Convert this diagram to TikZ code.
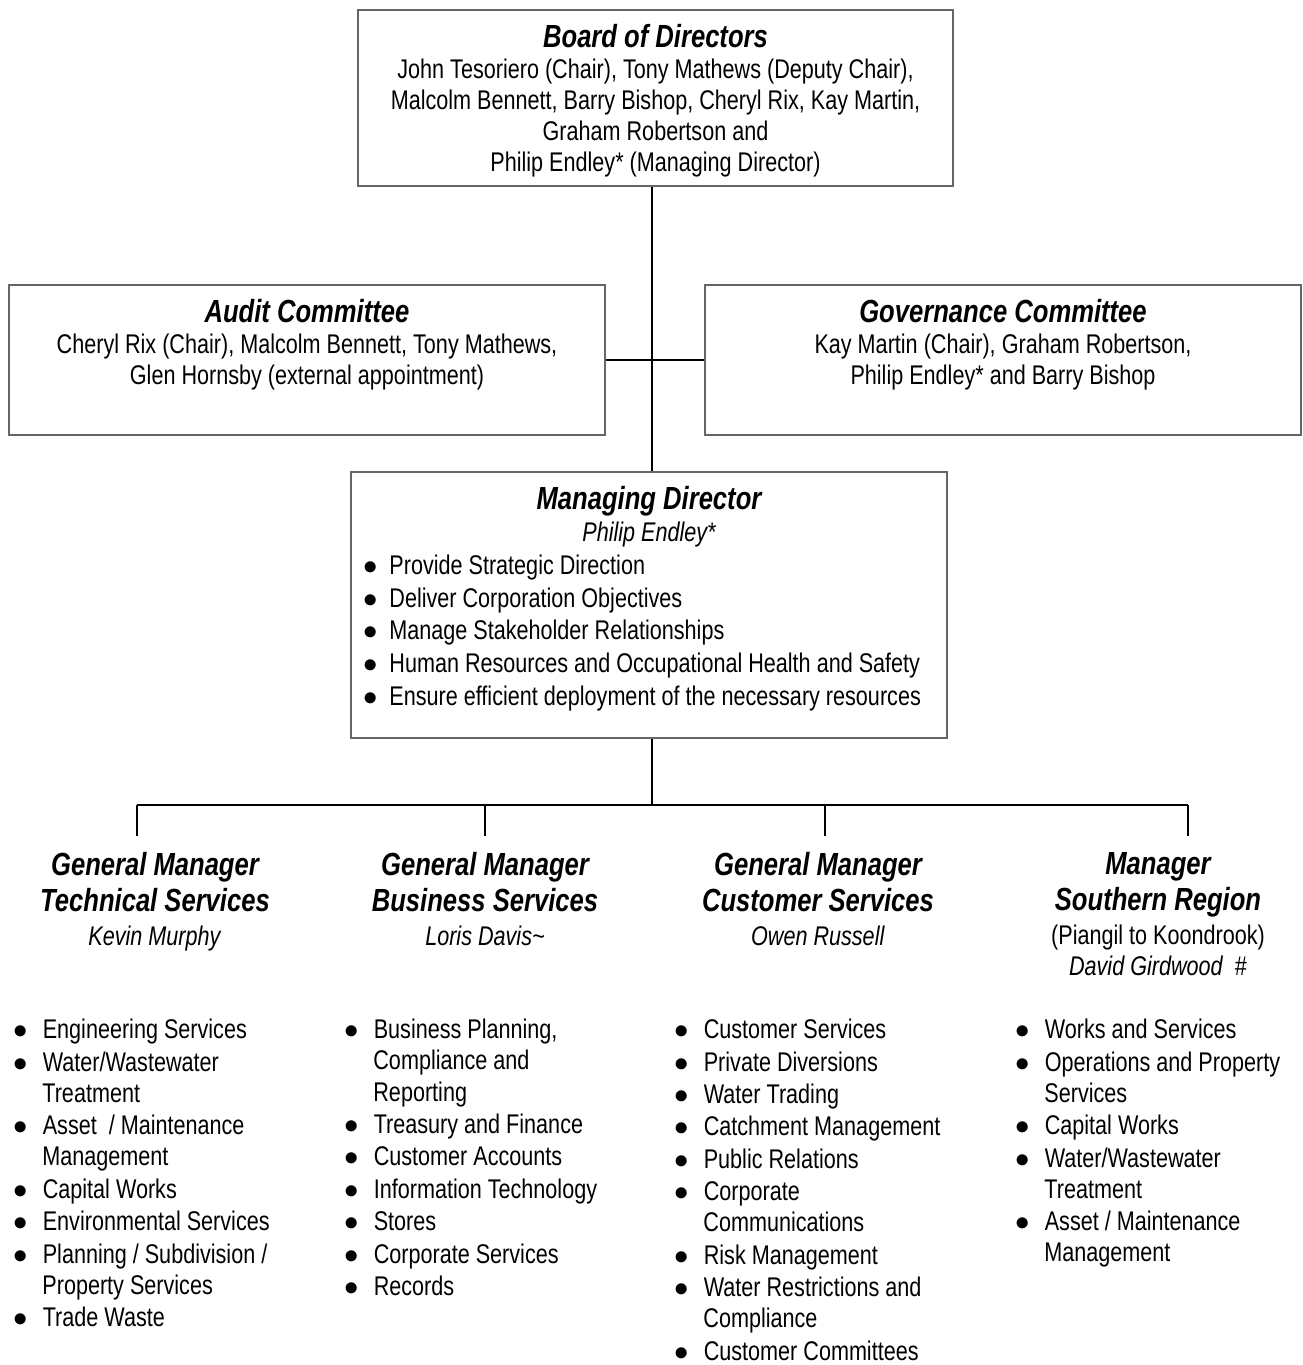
\documentclass[tikz,border=0pt]{standalone}
\usepackage{fontspec}
\setmainfont{Liberation Sans}[FakeStretch=0.8]
\usepackage{enumitem}
\usetikzlibrary{positioning}
\newcommand{\titlefont}{\fontsize{16}{18}\selectfont\bfseries\itshape}
\newcommand{\natspace}{\spaceskip=0pt\xspaceskip=0pt\relax}
\newcommand{\panelbox}[3]{\begin{minipage}[c][#1][t]{#2}\centering\vspace*{7pt}#3\end{minipage}}
\newlist{duties}{itemize}{1}
\setlist[duties]{label=$\bullet$, nosep, itemsep=0.6pt, labelindent=0pt, labelwidth=7pt, labelsep=7.5pt, leftmargin=14.5pt, align=left}

\begin{document}
\begin{tikzpicture}[
    % GLOBAL CFG
    x=0.5pt, y=-0.5pt,
    font=\fontsize{13.5}{15.6}\selectfont,
    % Styles
    panel/.style={% For the framed boxes
        draw=black!60,
        line width=0.6pt,
        inner sep=0pt,
    },
    link/.style={% For the reporting lines
        line width=1pt,
    },
    head/.style={% For the manager headings
        anchor=north,
        inner sep=0pt,
        text width=140pt,
    },
    duty/.style={% For the lists of duties
        anchor=north west,
        inner sep=0pt,
        text width=165pt,
    },
    ]
    \useasboundingbox (0,0) rectangle (1302,1365);

    % Coordinates
    \coordinate (spine) at (652,0);
    \coordinate (bus) at (652,805);
    \coordinate (drop1) at (137,836);
    \coordinate (drop2) at (485,836);
    \coordinate (drop3) at (825,836);
    \coordinate (drop4) at (1188,836);

    % Draw boxes
    \node [panel] (board) at (655.5,98) {\panelbox{88pt}{297.5pt}{%
        {\titlefont Board of Directors\par}
        John Tesoriero (Chair), Tony Mathews (Deputy Chair),\\
        Malcolm Bennett, Barry Bishop, Cheryl Rix, Kay Martin,\\
        Graham Robertson and\\
        Philip Endley* (Managing Director)}};
    \node [panel] (audit) at (307,360) {\panelbox{75pt}{298pt}{%
        {\titlefont Audit Committee\par}
        Cheryl Rix (Chair), Malcolm Bennett, Tony Mathews,\\
        Glen Hornsby (external appointment)}};
    \node [panel] (gov) at (1003,360) {\panelbox{75pt}{298pt}{%
        {\titlefont Governance Committee\par}
        Kay Martin (Chair), Graham Robertson,\\
        Philip Endley* and Barry Bishop}};
    \node [panel] (md) at (649,605) {\panelbox{133pt}{298pt}{%
        {\titlefont Managing Director\par}\vspace{0.6pt}
        {\itshape Philip Endley*\par}\vspace{0.8pt}
        \raggedright
        \begin{duties}[labelindent=6pt, labelsep=6pt, leftmargin=19pt, itemsep=0.8pt]
            \item Provide Strategic Direction
            \item Deliver Corporation Objectives
            \item Manage Stakeholder Relationships
            \item Human Resources and Occupational Health and Safety
            \item Ensure efficient deployment of the necessary resources
        \end{duties}}};

    % Draw manager headings
    \node [head] (tech) at (155,852) {\natspace\centering
        {\titlefont General Manager\\ Technical Services\par}
        \vspace{1.2pt}\textit{Kevin Murphy}\par};
    \node [head] (busi) at (485,852) {\natspace\centering
        {\titlefont General Manager\\ Business Services\par}
        \vspace{1.2pt}\textit{Loris Davis\textasciitilde}\par};
    \node [head] (cust) at (818,852) {\natspace\centering
        {\titlefont General Manager\\ Customer Services\par}
        \vspace{1.2pt}\textit{Owen Russell}\par};
    \node [head] (south) at (1158,852) {\natspace\centering
        {\titlefont Manager\\ Southern Region\par}
        \vspace{1.2pt}(Piangil to Koondrook)\\ \textit{David Girdwood\ \ \#}\par};

    % Draw lists of duties
    \node [duty] (techlist) at (13,1007) {\natspace
        \begin{duties}
            \item Engineering Services
            \item Water/Wastewater\\ Treatment
            \item Asset\ \ / Maintenance\\ Management
            \item Capital Works
            \item Environmental Services
            \item Planning / Subdivision /\\ Property Services
            \item Trade Waste
        \end{duties}};
    \node [duty] (busilist) at (344,1007) {\natspace
        \begin{duties}
            \item Business Planning,\\ Compliance and\\ Reporting
            \item Treasury and Finance
            \item Customer Accounts
            \item Information Technology
            \item Stores
            \item Corporate Services
            \item Records
        \end{duties}};
    \node [duty] (custlist) at (674,1007) {\natspace
        \begin{duties}
            \item Customer Services
            \item Private Diversions
            \item Water Trading
            \item Catchment Management
            \item Public Relations
            \item Corporate\\ Communications
            \item Risk Management
            \item Water Restrictions and\\ Compliance
            \item Customer Committees
        \end{duties}};
    \node [duty] (southlist) at (1015,1007) {\natspace
        \begin{duties}
            \item Works and Services
            \item Operations and Property\\ Services
            \item Capital Works
            \item Water/Wastewater\\ Treatment
            \item Asset / Maintenance\\ Management
        \end{duties}};

    % Connect all
    \draw [link] (board.south -| spine) -- (md.north -| spine);
    \draw [link] (audit.east) -- (gov.west);
    \draw [link] (md.south -| spine) -- (bus);
    \draw [link] (drop1 |- bus) -- (drop4 |- bus);
    \foreach \i in {1,...,4}
        \draw [link] (drop\i |- bus) -- (drop\i);

\end{tikzpicture}
\end{document}
